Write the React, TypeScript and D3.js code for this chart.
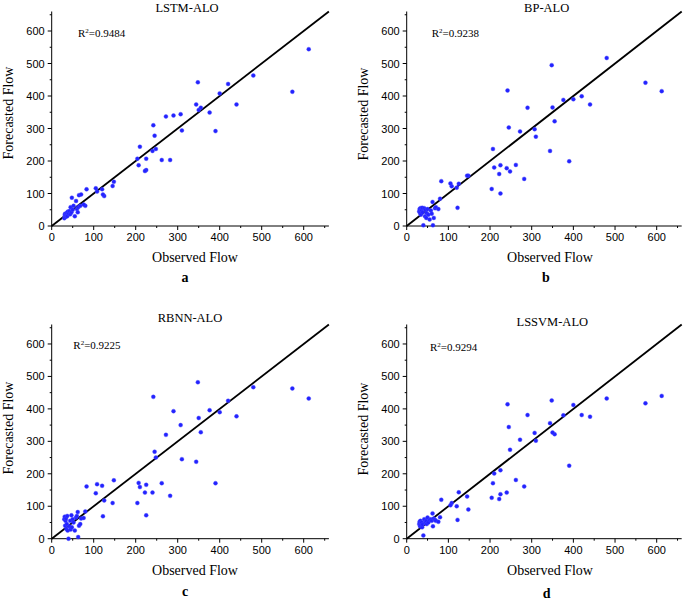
import React from "react";
import * as d3 from "d3";

const observed = [612,573,480,440,420,400,390,376,355,350,348,344,310,307,290,272,262,282,242,245,248,240,225,225,222,210,207,204,148,145,125,122,120,108,105,83,80,
  30,31,32,33,34,35,36,37,38,40,42,44,45,47,48,50,52,55,58,60,62,63,65,68,70,76];
const lstmAlo = [544,413,463,374,437,408,292,349,364,357,442,374,294,344,340,337,203,203,310,278,237,231,207,172,169,244,187,207,136,123,92,97,113,106,116,113,62,
  24,34,38,28,32,36,40,30,44,38,46,36,58,42,87,50,62,30,77,52,42,58,95,62,97,66];
const bpAlo = [415,441,517,374,399,390,199,388,322,365,495,231,275,298,364,291,188,145,417,303,168,178,187,100,160,180,237,114,155,155,130,56,118,122,131,138,84,
  45,52,40,55,35,50,48,56,42,2,55,30,50,25,40,52,35,20,48,38,74,2,25,55,58,52];
const rbnnAlo = [432,463,467,377,425,390,171,396,328,372,482,237,245,350,393,320,171,132,437,268,250,142,166,72,142,159,172,110,180,110,118,69,163,168,140,161,84,
  60,68,40,55,62,30,45,70,25,0,38,55,28,72,35,60,50,25,65,70,82,5,40,45,62,64];
const lssvmAlo = [440,417,432,376,381,412,225,380,322,327,426,356,302,326,381,305,181,161,414,344,274,142,211,137,122,201,171,126,90,130,143,58,100,110,103,120,66,
  45,52,38,55,42,48,50,35,44,10,60,48,52,55,45,65,50,58,60,55,78,38,62,58,55,52];

const titles = ["LSTM-ALO", "BP-ALO", "RBNN-ALO", "LSSVM-ALO"];
const r2Values = ["0.9484", "0.9238", "0.9225", "0.9294"];
const letters = ["a", "b", "c", "d"];
const majorTicks = [0, 100, 200, 300, 400, 500, 600];
const minorTicks = [50, 150, 250, 350, 450, 550, 650];
const domainMax = 660;

const SERIF = "'Liberation Serif', 'Times New Roman', serif";
const SANS = "'Liberation Sans', Arial, sans-serif";

type Layout = {
  left: number; right: number; bottom: number; top: number;
  titleX: number; titleY: number; r2X: number; r2Y: number;
  xLabelX: number; xLabelY: number; letterX: number; letterY: number;
  yLabelX: number; yLabelY: number;
};

const layouts: Layout[] = [
  { left: 51.7, right: 328.9, bottom: 226, top: 11.5, titleX: 187, titleY: 11.5, r2X: 78, r2Y: 37, xLabelX: 195, xLabelY: 262, letterX: 185, letterY: 282, yLabelX: 13, yLabelY: 113 },
  { left: 406.7, right: 681.7, bottom: 226, top: 11.5, titleX: 546.7, titleY: 11.5, r2X: 431.7, r2Y: 37, xLabelX: 550, xLabelY: 262, letterX: 546, letterY: 282, yLabelX: 368, yLabelY: 114 },
  { left: 51.7, right: 328.9, bottom: 538.7, top: 324.5, titleX: 190, titleY: 321.5, r2X: 73.3, r2Y: 349, xLabelX: 195, xLabelY: 575, letterX: 185, letterY: 596, yLabelX: 13, yLabelY: 428 },
  { left: 406.7, right: 681.7, bottom: 538.7, top: 324.5, titleX: 552.3, titleY: 326, r2X: 430, r2Y: 351, xLabelX: 550, xLabelY: 575, letterX: 546.7, letterY: 598, yLabelX: 368, yLabelY: 429 },
];

const series = [lstmAlo, bpAlo, rbnnAlo, lssvmAlo];

function Panel({ idx }: { idx: number }) {
  const L = layouts[idx];
  const predicted = series[idx];
  const x = d3.scaleLinear().domain([0, domainMax]).range([L.left, L.right]);
  const y = d3.scaleLinear().domain([0, domainMax]).range([L.bottom, L.top]);
  const line = d3.line<number>().x((d) => x(d)).y((d) => y(d));
  return (
    <g>
      <text x={L.titleX} y={L.titleY} textAnchor="middle" fontFamily={SERIF} fontSize={12.5}>{titles[idx]}</text>
      <line x1={L.left} x2={L.left} y1={L.bottom} y2={y(domainMax)} stroke="#000" strokeWidth={1} />
      <line x1={L.left} x2={x(domainMax)} y1={L.bottom} y2={L.bottom} stroke="#000" strokeWidth={1} />
      {majorTicks.map((t) => (
        <g key={"mx" + t}>
          <line x1={x(t)} x2={x(t)} y1={L.bottom} y2={L.bottom + 4} stroke="#000" />
          <text x={x(t)} y={L.bottom + 15} textAnchor="middle" fontFamily={SANS} fontSize={11}>{t}</text>
          <line x1={L.left - 4} x2={L.left} y1={y(t)} y2={y(t)} stroke="#000" />
          <text x={L.left - 7} y={y(t) + 4} textAnchor="end" fontFamily={SANS} fontSize={11}>{t}</text>
        </g>
      ))}
      {minorTicks.map((t) => (
        <g key={"mn" + t}>
          <line x1={x(t)} x2={x(t)} y1={L.bottom} y2={L.bottom + 2} stroke="#000" />
          <line x1={L.left - 2} x2={L.left} y1={y(t)} y2={y(t)} stroke="#000" />
        </g>
      ))}
      <path d={line([0, domainMax]) || ""} stroke="#000" strokeWidth={1.8} fill="none" />
      {observed.map((o, i) => (
        <circle key={i} cx={x(o)} cy={y(predicted[i])} r={2} fill="#2323ff" stroke="#4a4aff" strokeWidth={0.4} />
      ))}
      <text x={L.r2X} y={L.r2Y} fontFamily={SERIF} fontSize={11}>
        R<tspan dy={-4} fontSize={7}>2</tspan><tspan dy={4}>={r2Values[idx]}</tspan>
      </text>
      <text x={L.xLabelX} y={L.xLabelY} textAnchor="middle" fontFamily={SERIF} fontSize={14}>Observed Flow</text>
      <text transform={`translate(${L.yLabelX},${L.yLabelY}) rotate(-90)`} textAnchor="middle" fontFamily={SERIF} fontSize={14}>Forecasted Flow</text>
      <text x={L.letterX} y={L.letterY} textAnchor="middle" fontFamily={SERIF} fontSize={14} fontWeight="bold">{letters[idx]}</text>
    </g>
  );
}

export default function App() {
  return (
    <svg width={685} height={602} style={{ position: "absolute", left: 0, top: 0, background: "#fff" }}>
      <rect width={685} height={602} fill="#fff" />
      {[0, 1, 2, 3].map((i) => <Panel key={i} idx={i} />)}
    </svg>
  );
}
